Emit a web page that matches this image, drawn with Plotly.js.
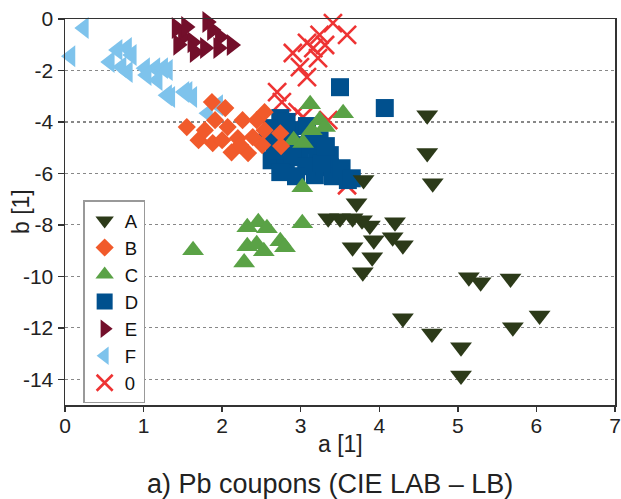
<!DOCTYPE html>
<html>
<head>
<meta charset="utf-8">
<script src="https://cdn.plot.ly/plotly-3.0.1.min.js"></script>
<style>
  html, body { margin: 0; padding: 0; background: #fff; }
  #chart { width: 621px; height: 499px; }
</style>
</head>
<body>
<div id="chart"></div>
<script>
// CIE LAB a/b chromaticity of Pb coupons, grouped by class
const seriesNames = ["A", "B", "C", "D", "E", "F", "0"];

const aA = [4.61, 4.61, 4.68, 3.80, 3.71, 3.35, 3.50, 3.66, 3.78, 3.88, 4.20, 3.93, 4.17, 4.30, 3.66, 3.91, 3.79, 5.14, 5.29, 5.67, 6.04, 5.70, 4.30, 4.67, 5.04, 5.04];
const bA = [-3.74, -5.21, -6.38, -6.26, -7.16, -7.74, -7.74, -7.74, -7.82, -8.02, -7.90, -8.60, -8.48, -8.79, -8.87, -9.26, -9.84, -10.04, -10.23, -10.08, -11.52, -11.98, -11.63, -12.22, -12.76, -13.85];

const aB = [1.55, 1.70, 1.87, 2.04, 1.91, 2.07, 2.26, 2.44, 1.88, 2.12, 2.33, 2.39, 2.54, 2.74, 2.75, 2.20, 2.54, 1.78, 2.00, 2.23, 2.51];
const bB = [-4.20, -4.71, -3.23, -3.46, -3.93, -4.20, -3.93, -3.93, -4.82, -5.18, -5.21, -4.59, -4.32, -4.44, -4.94, -4.63, -3.62, -4.32, -4.71, -4.90, -4.90];

const aC = [3.12, 3.54, 3.24, 3.31, 2.91, 3.03, 3.14, 3.02, 1.63, 2.32, 2.46, 2.57, 2.32, 2.44, 2.53, 2.28, 2.74, 2.80, 3.02];
const bC = [-3.31, -3.66, -3.93, -4.20, -4.71, -4.82, -4.32, -6.54, -8.99, -8.09, -7.90, -8.13, -8.83, -8.75, -9.03, -9.46, -8.64, -8.87, -7.94];

const aD = [3.50, 4.07, 2.74, 3.08, 2.58, 2.77, 2.99, 2.63, 2.81, 2.99, 3.21, 3.37, 3.37, 3.18, 3.41, 3.60, 3.24, 2.86,
            2.67, 2.89, 3.07, 3.27, 3.52, 2.94, 2.74, 3.12, 3.32, 3.65, 2.63, 2.82];
const bD = [-2.65, -3.46, -3.85, -4.16, -4.71, -4.90, -4.90, -5.49, -5.68, -5.37, -5.18, -5.29, -5.76, -6.07, -6.11, -6.26, -4.71, -4.32,
            -5.10, -5.29, -5.72, -5.60, -5.80, -6.11, -5.95, -4.59, -4.94, -6.19, -4.24, -4.00];

const aE = [1.42, 1.50, 1.44, 1.62, 1.81, 1.87, 1.97, 1.78, 1.95, 2.12, 1.65, 1.54];
const bE = [-0.35, -0.70, -1.00, -0.90, -0.12, -0.43, -0.70, -1.13, -1.13, -1.01, -1.28, -0.31];

const aF = [0.24, 0.07, 0.67, 0.79, 0.85, 0.57, 0.72, 0.80, 1.02, 1.15, 1.25, 1.31, 1.04, 1.18, 1.34, 1.56, 1.62, 1.82, 1.30, 1.52, 1.95];
const bF = [-0.35, -1.45, -1.20, -1.13, -1.40, -1.67, -1.87, -2.06, -1.91, -1.91, -1.91, -1.98, -2.18, -2.37, -3.03, -2.84, -3.03, -3.66, -2.96, -2.84, -3.35];

const a0 = [3.41, 3.59, 3.24, 3.31, 3.08, 2.90, 3.16, 3.22, 2.99, 3.08, 2.70, 2.76, 2.96, 3.03, 3.35, 3.59];
const b0 = [-0.16, -0.62, -0.62, -1.01, -0.93, -1.32, -1.13, -1.52, -1.87, -2.26, -2.84, -3.23, -3.62, -3.81, -3.93, -6.46];

const xTicks = [0, 1, 2, 3, 4, 5, 6, 7];
const yTicks = [0, -2, -4, -6, -8, -10, -12, -14];

function series(name, x, y, symbol, color, size, extra) {
  const marker = Object.assign({ symbol: symbol, color: color, size: size, line: { width: 0 } }, extra || {});
  return { type: "scatter", mode: "markers", name: name, x: x, y: y, marker: marker, cliponaxis: false };
}

// bottom-to-top drawing order; legend shows them reversed (A first)
const traces = [
  series(seriesNames[6], a0, b0, "x-thin-open", "#EE3333", 18, { line: { width: 2.6, color: "#EE3333" } }),
  series(seriesNames[5], aF, bF, "triangle-left", "#7EC3EC", 19),
  series(seriesNames[4], aE, bE, "triangle-right", "#730F2B", 19),
  series(seriesNames[3], aD, bD, "square", "#00508E", 18),
  series(seriesNames[2], aC, bC, "triangle-up", "#5AA246", 19),
  series(seriesNames[1], aB, bB, "diamond", "#F15A2B", 14),
  series(seriesNames[0], aA, bA, "triangle-down", "#2C3A19", 19)
];

const fontFam = "Arial, 'Liberation Sans', sans-serif";
const textColor = "#222";

const layout = {
  width: 621,
  height: 499,
  margin: { l: 65, r: 6, t: 19, b: 94 },
  paper_bgcolor: "#ffffff",
  plot_bgcolor: "#ffffff",
  font: { family: fontFam, color: textColor, size: 21 },
  showlegend: true,
  legend: {
    x: 0.033, y: 0.53, xanchor: "left", yanchor: "top",
    traceorder: "reversed",
    bgcolor: "#ffffff", bordercolor: "#999999", borderwidth: 1.5,
    font: { family: fontFam, size: 18.5, color: "#111" }
  },
  xaxis: {
    range: [0, 7], tickvals: xTicks, ticktext: xTicks.map(String),
    showgrid: false, zeroline: false,
    showline: true, linecolor: "#333", linewidth: 1.5, mirror: true,
    ticks: "outside", ticklen: 5, tickwidth: 1.5, tickcolor: "#333",
    ticklabeloverflow: "allow", ticklabelstandoff: -4,
    tickfont: { size: 21, color: textColor }
  },
  yaxis: {
    range: [-15, 0], tickvals: yTicks, ticktext: yTicks.map(String),
    showgrid: true, gridcolor: "#888", griddash: "dot", gridwidth: 1.2,
    zeroline: false,
    showline: true, linecolor: "#333", linewidth: 1.5, mirror: true,
    ticks: "outside", ticklen: 6, tickwidth: 1.5, tickcolor: "#333",
    ticklabeloverflow: "allow",
    tickfont: { size: 21, color: textColor }
  },
  annotations: [
    {
      // x-axis title
      text: "a [1]", xref: "paper", yref: "paper", x: 0.5, y: -0.1,
      xanchor: "center", yanchor: "middle", showarrow: false,
      font: { family: fontFam, size: 23, color: textColor }
    },
    {
      // y-axis title
      text: "b [1]", xref: "paper", yref: "paper", x: -0.08, y: 0.5,
      xanchor: "center", yanchor: "middle", textangle: -90, showarrow: false,
      font: { family: fontFam, size: 23, color: textColor }
    },
    {
      // figure caption
      text: "a) Pb coupons (CIE LAB \u2013 LB)",
      xref: "paper", yref: "paper", x: 0.482, y: -0.205,
      xanchor: "center", yanchor: "middle", showarrow: false,
      font: { family: fontFam, size: 27, color: textColor }
    }
  ]
};

Plotly.newPlot("chart", traces, layout, { displayModeBar: false, staticPlot: true });
</script>
</body>
</html>
